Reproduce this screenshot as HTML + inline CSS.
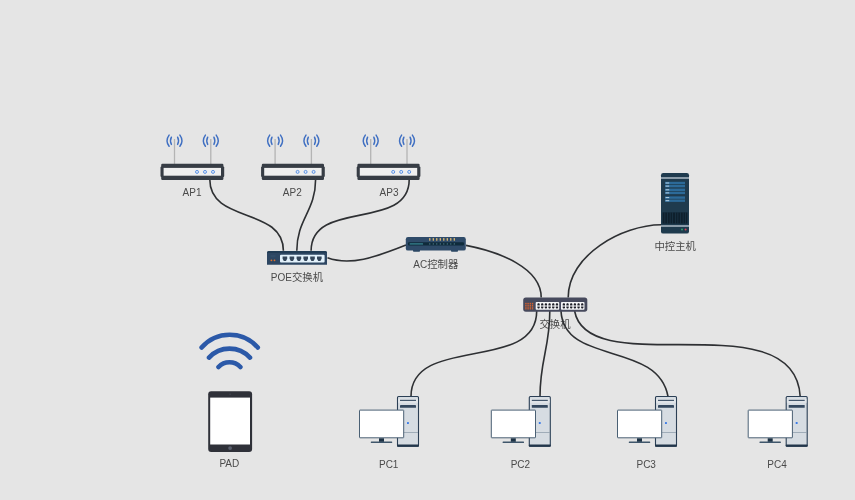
<!DOCTYPE html>
<html lang="zh-CN"><head><meta charset="utf-8"><title>网络拓扑图</title>
<style>
html,body{margin:0;padding:0;background:#e5e5e5;}
body{width:855px;height:500px;overflow:hidden;font-family:"Liberation Sans","Noto Sans CJK SC",sans-serif;}
svg{display:block;position:absolute;left:0;top:0;}
svg.t{will-change:transform;}
</style></head><body>
<svg class="t" width="855" height="500" viewBox="0 0 855 500"><g font-family="'Liberation Sans', 'Noto Sans CJK SC', sans-serif" font-size="10" fill="#4a4a4a"><text x="192" y="195.7" text-anchor="middle">AP1</text><text x="292.3" y="195.7" text-anchor="middle">AP2</text><text x="389" y="195.7" text-anchor="middle">AP3</text><text x="297" y="281" text-anchor="middle">POE<tspan font-size="10.4">交换机</tspan></text><text x="435.8" y="267.6" text-anchor="middle">AC<tspan font-size="10.4">控制器</tspan></text><text x="675.2" y="250" text-anchor="middle"><tspan font-size="10.4">中控主机</tspan></text><text x="555" y="328" text-anchor="middle"><tspan font-size="10.4">交换机</tspan></text><text x="229.3" y="467.3" text-anchor="middle">PAD</text><text x="388.7" y="468" text-anchor="middle">PC1</text><text x="520.4" y="468" text-anchor="middle">PC2</text><text x="646.2" y="468" text-anchor="middle">PC3</text><text x="777.1" y="468" text-anchor="middle">PC4</text></g></svg>
<svg class="m" width="855" height="500" viewBox="0 0 855 500"><path d="M209.8,179.5 C209.8,223.6 283.4,206.7 283.4,250.8" fill="none" stroke="#2e3033" stroke-width="1.6"/><path d="M315.6,179.5 C315.6,211.2 296.8,219.1 296.8,250.8" fill="none" stroke="#2e3033" stroke-width="1.6"/><path d="M409.2,179.5 C409.2,231.6 311.1,198.7 311.1,250.8" fill="none" stroke="#2e3033" stroke-width="1.6"/><path d="M327.5,257.8 C350,266 375,257.5 406,245.1" fill="none" stroke="#2e3033" stroke-width="1.6"/><path d="M466,245.4 C500,252 541.2,268 541.2,297.5" fill="none" stroke="#2e3033" stroke-width="1.6"/><path d="M661.3,224.8 C622,225 568.2,255 568.2,297.5" fill="none" stroke="#2e3033" stroke-width="1.6"/><path d="M536.7,311 C536.7,373.3 411,334.2 411,396.5" fill="none" stroke="#2e3033" stroke-width="1.6"/><path d="M549.8,311 C549.8,348.0 540,359.5 540,396.5" fill="none" stroke="#2e3033" stroke-width="1.6"/><path d="M561,311 C563.8,365.8 658.1,340.5 668,396.5" fill="none" stroke="#2e3033" stroke-width="1.6"/><path d="M574.6,311 C587.9,383.4 795.1,299.9 800.2,396.5" fill="none" stroke="#2e3033" stroke-width="1.6"/><g transform="translate(0,0)"><rect x="173.85" y="139" width="1.3" height="25" fill="#b4b4b4"/><path d="M169.1,135.1 A9.5,9.5 0 0 0 169.1,146.3 M179.9,135.1 A9.5,9.5 0 0 1 179.9,146.3 M171.4,137.2 A7.8,7.8 0 0 0 171.4,144.4 M177.6,137.2 A7.8,7.8 0 0 1 177.6,144.4" fill="none" stroke="#3f6fc2" stroke-width="1.45" stroke-linecap="round"/><rect x="210.15" y="139" width="1.3" height="25" fill="#b4b4b4"/><path d="M205.4,135.1 A9.5,9.5 0 0 0 205.4,146.3 M216.20000000000002,135.1 A9.5,9.5 0 0 1 216.20000000000002,146.3 M207.70000000000002,137.2 A7.8,7.8 0 0 0 207.70000000000002,144.4 M213.9,137.2 A7.8,7.8 0 0 1 213.9,144.4" fill="none" stroke="#3f6fc2" stroke-width="1.45" stroke-linecap="round"/><rect x="160.5" y="166.5" width="63.7" height="10.5" rx="1" fill="#373d45"/><rect x="161.2" y="163.7" width="62.2" height="16.2" rx="1.2" fill="#373d45"/><rect x="163.6" y="167.9" width="57.4" height="7.8" fill="#efefef"/><circle cx="197" cy="171.9" r="1.5" fill="#dfe9f8" stroke="#3f7fe0" stroke-width="0.8"/><circle cx="205" cy="171.9" r="1.5" fill="#dfe9f8" stroke="#3f7fe0" stroke-width="0.8"/><circle cx="213" cy="171.9" r="1.5" fill="#dfe9f8" stroke="#3f7fe0" stroke-width="0.8"/></g><g transform="translate(100.6,0)"><rect x="173.85" y="139" width="1.3" height="25" fill="#b4b4b4"/><path d="M169.1,135.1 A9.5,9.5 0 0 0 169.1,146.3 M179.9,135.1 A9.5,9.5 0 0 1 179.9,146.3 M171.4,137.2 A7.8,7.8 0 0 0 171.4,144.4 M177.6,137.2 A7.8,7.8 0 0 1 177.6,144.4" fill="none" stroke="#3f6fc2" stroke-width="1.45" stroke-linecap="round"/><rect x="210.15" y="139" width="1.3" height="25" fill="#b4b4b4"/><path d="M205.4,135.1 A9.5,9.5 0 0 0 205.4,146.3 M216.20000000000002,135.1 A9.5,9.5 0 0 1 216.20000000000002,146.3 M207.70000000000002,137.2 A7.8,7.8 0 0 0 207.70000000000002,144.4 M213.9,137.2 A7.8,7.8 0 0 1 213.9,144.4" fill="none" stroke="#3f6fc2" stroke-width="1.45" stroke-linecap="round"/><rect x="160.5" y="166.5" width="63.7" height="10.5" rx="1" fill="#373d45"/><rect x="161.2" y="163.7" width="62.2" height="16.2" rx="1.2" fill="#373d45"/><rect x="163.6" y="167.9" width="57.4" height="7.8" fill="#efefef"/><circle cx="197" cy="171.9" r="1.5" fill="#dfe9f8" stroke="#3f7fe0" stroke-width="0.8"/><circle cx="205" cy="171.9" r="1.5" fill="#dfe9f8" stroke="#3f7fe0" stroke-width="0.8"/><circle cx="213" cy="171.9" r="1.5" fill="#dfe9f8" stroke="#3f7fe0" stroke-width="0.8"/></g><g transform="translate(196.2,0)"><rect x="173.85" y="139" width="1.3" height="25" fill="#b4b4b4"/><path d="M169.1,135.1 A9.5,9.5 0 0 0 169.1,146.3 M179.9,135.1 A9.5,9.5 0 0 1 179.9,146.3 M171.4,137.2 A7.8,7.8 0 0 0 171.4,144.4 M177.6,137.2 A7.8,7.8 0 0 1 177.6,144.4" fill="none" stroke="#3f6fc2" stroke-width="1.45" stroke-linecap="round"/><rect x="210.15" y="139" width="1.3" height="25" fill="#b4b4b4"/><path d="M205.4,135.1 A9.5,9.5 0 0 0 205.4,146.3 M216.20000000000002,135.1 A9.5,9.5 0 0 1 216.20000000000002,146.3 M207.70000000000002,137.2 A7.8,7.8 0 0 0 207.70000000000002,144.4 M213.9,137.2 A7.8,7.8 0 0 1 213.9,144.4" fill="none" stroke="#3f6fc2" stroke-width="1.45" stroke-linecap="round"/><rect x="160.5" y="166.5" width="63.7" height="10.5" rx="1" fill="#373d45"/><rect x="161.2" y="163.7" width="62.2" height="16.2" rx="1.2" fill="#373d45"/><rect x="163.6" y="167.9" width="57.4" height="7.8" fill="#efefef"/><circle cx="197" cy="171.9" r="1.5" fill="#dfe9f8" stroke="#3f7fe0" stroke-width="0.8"/><circle cx="205" cy="171.9" r="1.5" fill="#dfe9f8" stroke="#3f7fe0" stroke-width="0.8"/><circle cx="213" cy="171.9" r="1.5" fill="#dfe9f8" stroke="#3f7fe0" stroke-width="0.8"/></g><g><path d="M267,264.7 V253 Q267,251 269,251 H325 Q327,251 327,253 V264.7 Z" fill="#2d4662"/><path d="M267,253 Q267,251 269,251 H325 Q327,251 327,253 Z" fill="#213c55"/><rect x="270.4" y="255" width="5.2" height="2.2" fill="#314c68"/><rect x="280" y="254.8" width="44.6" height="7.6" rx="1" fill="#e2f1fb"/><path d="M282.59999999999997,256.5 h4.6 v2.3 l-1.2,2.1 h-2.2 l-1.2,-2.1 Z" fill="#34465a"/><path d="M289.59999999999997,256.5 h4.6 v2.3 l-1.2,2.1 h-2.2 l-1.2,-2.1 Z" fill="#34465a"/><path d="M296.59999999999997,256.5 h4.6 v2.3 l-1.2,2.1 h-2.2 l-1.2,-2.1 Z" fill="#34465a"/><path d="M303.4,256.5 h4.6 v2.3 l-1.2,2.1 h-2.2 l-1.2,-2.1 Z" fill="#34465a"/><path d="M310.2,256.5 h4.6 v2.3 l-1.2,2.1 h-2.2 l-1.2,-2.1 Z" fill="#34465a"/><path d="M317.0,256.5 h4.6 v2.3 l-1.2,2.1 h-2.2 l-1.2,-2.1 Z" fill="#34465a"/><circle cx="271.4" cy="260.3" r="0.9" fill="#e0702a"/><circle cx="274.5" cy="260.3" r="0.9" fill="#e0702a"/></g><g><rect x="413" y="249.5" width="7" height="2.3" rx="0.8" fill="#2a4662"/><rect x="451" y="249.5" width="7" height="2.3" rx="0.8" fill="#2a4662"/><rect x="405.8" y="237" width="60" height="13.6" rx="2.2" fill="#2f4b69"/><rect x="408" y="242.3" width="56" height="3.1" rx="1" fill="#0f2b3b"/><rect x="409.6" y="243" width="13.5" height="1.8" rx="0.6" fill="#2d6c7a"/><rect x="429.20" y="238" width="1.2" height="2.7" rx="0.5" fill="#e9c274"/><circle cx="429.80" cy="243.9" r="0.6" fill="#5a8a98"/><rect x="432.70" y="238" width="1.2" height="2.7" rx="0.5" fill="#e9c274"/><circle cx="433.30" cy="243.9" r="0.6" fill="#5a8a98"/><rect x="436.20" y="238" width="1.2" height="2.7" rx="0.5" fill="#e9c274"/><circle cx="436.80" cy="243.9" r="0.6" fill="#5a8a98"/><rect x="439.70" y="238" width="1.2" height="2.7" rx="0.5" fill="#e9c274"/><circle cx="440.30" cy="243.9" r="0.6" fill="#5a8a98"/><rect x="443.20" y="238" width="1.2" height="2.7" rx="0.5" fill="#e9c274"/><circle cx="443.80" cy="243.9" r="0.6" fill="#5a8a98"/><rect x="446.70" y="238" width="1.2" height="2.7" rx="0.5" fill="#e9c274"/><circle cx="447.30" cy="243.9" r="0.6" fill="#5a8a98"/><rect x="450.20" y="238" width="1.2" height="2.7" rx="0.5" fill="#e9c274"/><circle cx="450.80" cy="243.9" r="0.6" fill="#5a8a98"/><rect x="453.70" y="238" width="1.2" height="2.7" rx="0.5" fill="#e9c274"/><circle cx="454.30" cy="243.9" r="0.6" fill="#5a8a98"/></g><g><rect x="523.2" y="297.4" width="64.1" height="14.3" rx="2.6" fill="#474a5d"/><rect x="525.20" y="302.85" width="1.4" height="1.3" fill="#d4622f"/><rect x="527.40" y="302.85" width="1.4" height="1.3" fill="#d4622f"/><rect x="529.60" y="302.85" width="1.4" height="1.3" fill="#d4622f"/><rect x="531.80" y="302.85" width="1.4" height="1.3" fill="#d4622f"/><rect x="525.20" y="304.65" width="1.4" height="1.3" fill="#d4622f"/><rect x="527.40" y="304.65" width="1.4" height="1.3" fill="#d4622f"/><rect x="529.60" y="304.65" width="1.4" height="1.3" fill="#d4622f"/><rect x="531.80" y="304.65" width="1.4" height="1.3" fill="#d4622f"/><rect x="525.20" y="306.45" width="1.4" height="1.3" fill="#d4622f"/><rect x="527.40" y="306.45" width="1.4" height="1.3" fill="#d4622f"/><rect x="529.60" y="306.45" width="1.4" height="1.3" fill="#d4622f"/><rect x="531.80" y="306.45" width="1.4" height="1.3" fill="#d4622f"/><rect x="525.20" y="308.15" width="1.4" height="1.3" fill="#d4622f"/><rect x="527.40" y="308.15" width="1.4" height="1.3" fill="#d4622f"/><rect x="529.60" y="308.15" width="1.4" height="1.3" fill="#d4622f"/><rect x="531.80" y="308.15" width="1.4" height="1.3" fill="#d4622f"/><rect x="535.7" y="302.1" width="23.5" height="7.7" rx="0.8" fill="#f4f4f6"/><path d="M537.40,305.4 v-1.3 l0.6,-0.9 h1.1 l0.6,0.9 v1.3 Z" fill="#1e1f28"/><path d="M537.40,306.4 v1.3 l0.6,0.9 h1.1 l0.6,-0.9 v-1.3 Z" fill="#1e1f28"/><rect x="538.20" y="305" width="0.7" height="1.8" fill="#9a9ba2"/><path d="M541.08,305.4 v-1.3 l0.6,-0.9 h1.1 l0.6,0.9 v1.3 Z" fill="#1e1f28"/><path d="M541.08,306.4 v1.3 l0.6,0.9 h1.1 l0.6,-0.9 v-1.3 Z" fill="#1e1f28"/><rect x="541.88" y="305" width="0.7" height="1.8" fill="#9a9ba2"/><path d="M544.76,305.4 v-1.3 l0.6,-0.9 h1.1 l0.6,0.9 v1.3 Z" fill="#1e1f28"/><path d="M544.76,306.4 v1.3 l0.6,0.9 h1.1 l0.6,-0.9 v-1.3 Z" fill="#1e1f28"/><rect x="545.56" y="305" width="0.7" height="1.8" fill="#9a9ba2"/><path d="M548.44,305.4 v-1.3 l0.6,-0.9 h1.1 l0.6,0.9 v1.3 Z" fill="#1e1f28"/><path d="M548.44,306.4 v1.3 l0.6,0.9 h1.1 l0.6,-0.9 v-1.3 Z" fill="#1e1f28"/><rect x="549.24" y="305" width="0.7" height="1.8" fill="#9a9ba2"/><path d="M552.12,305.4 v-1.3 l0.6,-0.9 h1.1 l0.6,0.9 v1.3 Z" fill="#1e1f28"/><path d="M552.12,306.4 v1.3 l0.6,0.9 h1.1 l0.6,-0.9 v-1.3 Z" fill="#1e1f28"/><rect x="552.92" y="305" width="0.7" height="1.8" fill="#9a9ba2"/><path d="M555.80,305.4 v-1.3 l0.6,-0.9 h1.1 l0.6,0.9 v1.3 Z" fill="#1e1f28"/><path d="M555.80,306.4 v1.3 l0.6,0.9 h1.1 l0.6,-0.9 v-1.3 Z" fill="#1e1f28"/><rect x="556.60" y="305" width="0.7" height="1.8" fill="#9a9ba2"/><rect x="561.0" y="302.1" width="23.5" height="7.7" rx="0.8" fill="#f4f4f6"/><path d="M562.70,305.4 v-1.3 l0.6,-0.9 h1.1 l0.6,0.9 v1.3 Z" fill="#1e1f28"/><path d="M562.70,306.4 v1.3 l0.6,0.9 h1.1 l0.6,-0.9 v-1.3 Z" fill="#1e1f28"/><rect x="563.50" y="305" width="0.7" height="1.8" fill="#9a9ba2"/><path d="M566.38,305.4 v-1.3 l0.6,-0.9 h1.1 l0.6,0.9 v1.3 Z" fill="#1e1f28"/><path d="M566.38,306.4 v1.3 l0.6,0.9 h1.1 l0.6,-0.9 v-1.3 Z" fill="#1e1f28"/><rect x="567.18" y="305" width="0.7" height="1.8" fill="#9a9ba2"/><path d="M570.06,305.4 v-1.3 l0.6,-0.9 h1.1 l0.6,0.9 v1.3 Z" fill="#1e1f28"/><path d="M570.06,306.4 v1.3 l0.6,0.9 h1.1 l0.6,-0.9 v-1.3 Z" fill="#1e1f28"/><rect x="570.86" y="305" width="0.7" height="1.8" fill="#9a9ba2"/><path d="M573.74,305.4 v-1.3 l0.6,-0.9 h1.1 l0.6,0.9 v1.3 Z" fill="#1e1f28"/><path d="M573.74,306.4 v1.3 l0.6,0.9 h1.1 l0.6,-0.9 v-1.3 Z" fill="#1e1f28"/><rect x="574.54" y="305" width="0.7" height="1.8" fill="#9a9ba2"/><path d="M577.42,305.4 v-1.3 l0.6,-0.9 h1.1 l0.6,0.9 v1.3 Z" fill="#1e1f28"/><path d="M577.42,306.4 v1.3 l0.6,0.9 h1.1 l0.6,-0.9 v-1.3 Z" fill="#1e1f28"/><rect x="578.22" y="305" width="0.7" height="1.8" fill="#9a9ba2"/><path d="M581.10,305.4 v-1.3 l0.6,-0.9 h1.1 l0.6,0.9 v1.3 Z" fill="#1e1f28"/><path d="M581.10,306.4 v1.3 l0.6,0.9 h1.1 l0.6,-0.9 v-1.3 Z" fill="#1e1f28"/><rect x="581.90" y="305" width="0.7" height="1.8" fill="#9a9ba2"/></g><g><rect x="661" y="173" width="28" height="60.6" rx="2.2" fill="#1f3b4e"/><rect x="661" y="177" width="28" height="2" fill="#8a9ba8"/><rect x="661" y="225" width="28" height="2" fill="#8a9ba8"/><rect x="665" y="181.8" width="20" height="2.4" fill="#2c6a98"/><rect x="665" y="184.9" width="20" height="2.4" fill="#2c6a98"/><rect x="665.6" y="182.5" width="3.6" height="1" fill="#b9d3e6"/><rect x="665.6" y="185.60000000000002" width="3.6" height="1" fill="#b9d3e6"/><rect x="665" y="188.6" width="20" height="2.4" fill="#2c6a98"/><rect x="665" y="191.7" width="20" height="2.4" fill="#2c6a98"/><rect x="665.6" y="189.29999999999998" width="3.6" height="1" fill="#b9d3e6"/><rect x="665.6" y="192.4" width="3.6" height="1" fill="#b9d3e6"/><rect x="665" y="196.4" width="20" height="2.4" fill="#2c6a98"/><rect x="665" y="199.5" width="20" height="2.4" fill="#2c6a98"/><rect x="665.6" y="197.1" width="3.6" height="1" fill="#b9d3e6"/><rect x="665.6" y="200.20000000000002" width="3.6" height="1" fill="#b9d3e6"/><rect x="662.6" y="212.4" width="24.8" height="11.2" fill="#0e202d"/><rect x="664.60" y="212.4" width="0.6" height="11.2" fill="#1f3b4e"/><rect x="667.20" y="212.4" width="0.6" height="11.2" fill="#1f3b4e"/><rect x="669.80" y="212.4" width="0.6" height="11.2" fill="#1f3b4e"/><rect x="672.40" y="212.4" width="0.6" height="11.2" fill="#1f3b4e"/><rect x="675.00" y="212.4" width="0.6" height="11.2" fill="#1f3b4e"/><rect x="677.60" y="212.4" width="0.6" height="11.2" fill="#1f3b4e"/><rect x="680.20" y="212.4" width="0.6" height="11.2" fill="#1f3b4e"/><rect x="682.80" y="212.4" width="0.6" height="11.2" fill="#1f3b4e"/><rect x="685.40" y="212.4" width="0.6" height="11.2" fill="#1f3b4e"/><circle cx="682" cy="229.4" r="1" fill="#2fa36b"/><circle cx="685.6" cy="229.4" r="1" fill="#d8435a"/></g><g><path d="M201.6,347.5 A37.2,37.2 0 0 1 257.8,347.5 M209,357.6 A27.8,27.8 0 0 1 250,357.6 M218.5,367 A15,15 0 0 1 240.4,367" fill="none" stroke="#2b59a8" stroke-width="4.6" stroke-linecap="round"/><rect x="208.2" y="391.2" width="43.9" height="60.8" rx="3" fill="#2f3139"/><rect x="210.2" y="397.6" width="39.8" height="46.9" fill="#ffffff"/><circle cx="230.1" cy="448.1" r="1.9" fill="#595e6c"/><circle cx="230.1" cy="394.2" r="0.6" fill="#4a4e5a"/></g><g transform="translate(0,0)"><rect x="397.5" y="396.5" width="21" height="49.8" rx="1" fill="#d6dce2" stroke="#2b3f55" stroke-width="1.1"/><rect x="397" y="444.4" width="22" height="2.4" rx="0.8" fill="#22364b"/><rect x="398.2" y="398.8" width="19.6" height="4" fill="#e1e5e9"/><rect x="400" y="399.8" width="16" height="1.1" fill="#34485f"/><rect x="400" y="405" width="16" height="2.8" rx="0.4" fill="#34485f"/><rect x="398" y="432" width="20" height="0.7" fill="#8797a6"/><rect x="407" y="422" width="1.9" height="1.9" rx="0.5" fill="#3a7be8"/><rect x="359.5" y="410.1" width="44.2" height="27.7" rx="0.4" fill="#ffffff" stroke="#4a6074" stroke-width="1"/><rect x="379" y="438.3" width="5" height="3.6" fill="#1d3245"/><rect x="370.8" y="441.6" width="21.4" height="1.4" rx="0.5" fill="#3f566b"/></g><g transform="translate(131.8,0)"><rect x="397.5" y="396.5" width="21" height="49.8" rx="1" fill="#d6dce2" stroke="#2b3f55" stroke-width="1.1"/><rect x="397" y="444.4" width="22" height="2.4" rx="0.8" fill="#22364b"/><rect x="398.2" y="398.8" width="19.6" height="4" fill="#e1e5e9"/><rect x="400" y="399.8" width="16" height="1.1" fill="#34485f"/><rect x="400" y="405" width="16" height="2.8" rx="0.4" fill="#34485f"/><rect x="398" y="432" width="20" height="0.7" fill="#8797a6"/><rect x="407" y="422" width="1.9" height="1.9" rx="0.5" fill="#3a7be8"/><rect x="359.5" y="410.1" width="44.2" height="27.7" rx="0.4" fill="#ffffff" stroke="#4a6074" stroke-width="1"/><rect x="379" y="438.3" width="5" height="3.6" fill="#1d3245"/><rect x="370.8" y="441.6" width="21.4" height="1.4" rx="0.5" fill="#3f566b"/></g><g transform="translate(258,0)"><rect x="397.5" y="396.5" width="21" height="49.8" rx="1" fill="#d6dce2" stroke="#2b3f55" stroke-width="1.1"/><rect x="397" y="444.4" width="22" height="2.4" rx="0.8" fill="#22364b"/><rect x="398.2" y="398.8" width="19.6" height="4" fill="#e1e5e9"/><rect x="400" y="399.8" width="16" height="1.1" fill="#34485f"/><rect x="400" y="405" width="16" height="2.8" rx="0.4" fill="#34485f"/><rect x="398" y="432" width="20" height="0.7" fill="#8797a6"/><rect x="407" y="422" width="1.9" height="1.9" rx="0.5" fill="#3a7be8"/><rect x="359.5" y="410.1" width="44.2" height="27.7" rx="0.4" fill="#ffffff" stroke="#4a6074" stroke-width="1"/><rect x="379" y="438.3" width="5" height="3.6" fill="#1d3245"/><rect x="370.8" y="441.6" width="21.4" height="1.4" rx="0.5" fill="#3f566b"/></g><g transform="translate(388.7,0)"><rect x="397.5" y="396.5" width="21" height="49.8" rx="1" fill="#d6dce2" stroke="#2b3f55" stroke-width="1.1"/><rect x="397" y="444.4" width="22" height="2.4" rx="0.8" fill="#22364b"/><rect x="398.2" y="398.8" width="19.6" height="4" fill="#e1e5e9"/><rect x="400" y="399.8" width="16" height="1.1" fill="#34485f"/><rect x="400" y="405" width="16" height="2.8" rx="0.4" fill="#34485f"/><rect x="398" y="432" width="20" height="0.7" fill="#8797a6"/><rect x="407" y="422" width="1.9" height="1.9" rx="0.5" fill="#3a7be8"/><rect x="359.5" y="410.1" width="44.2" height="27.7" rx="0.4" fill="#ffffff" stroke="#4a6074" stroke-width="1"/><rect x="379" y="438.3" width="5" height="3.6" fill="#1d3245"/><rect x="370.8" y="441.6" width="21.4" height="1.4" rx="0.5" fill="#3f566b"/></g></svg>
</body></html>
